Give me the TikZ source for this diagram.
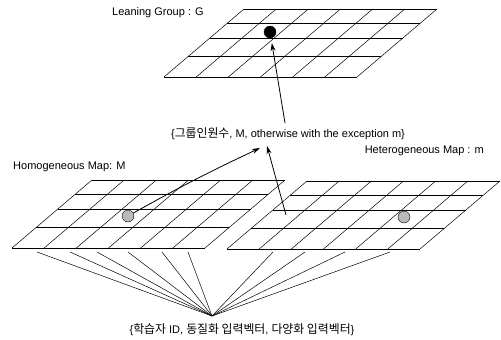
\documentclass[tikz,border=0pt]{standalone}
\usepackage{fontspec}
\setmainfont{Liberation Sans}
\newfontfamily\kor[Scale=1.08]{Noto Sans CJK KR}
\usetikzlibrary{arrows.meta}
\begin{document}
\begin{tikzpicture}[x=1pt,y=-1pt,
    lbl/.style={inner sep=1pt, font=\fontsize{11}{13}\selectfont},
    dot/.style={circle, draw, thin, minimum size=12pt, inner sep=0pt},
    arr/.style={-{Stealth[length=8pt,width=5pt]}, thick}]
    \useasboundingbox (0,0) rectangle (501,340);
    % the three skewed maps
    \foreach \gx/\gy in {164/77, 12/248, 227/249} {
        \foreach \f in {0,.3,.57,.79,1}
            \draw[line width=.7pt] (\gx+80*\f, \gy-68*\f) -- ++(193,0);
        \foreach \i in {0,...,6}
            \draw[line width=.5pt] (\gx+\i*193/6, \gy) -- ++(80,-68);
    }
    \node[lbl, anchor=west] (glabel) at (111,13) {Leaning Group : G};
    \node[lbl, anchor=west] (mlabel) at (12,167) {Homogeneous Map: M};
    \node[lbl, anchor=east] (hlabel) at (485,151) {Heterogeneous Map : m};
    \node[lbl] (cnt) at (288,134) {\{{\kor 그룹인원수}, M, otherwise with the exception m\}};
    \node[lbl] (inp) at (242,330) {\{{\kor 학습자} ID, {\kor 동질화 입력벡터}, {\kor 다양화 입력벡터}\}};
    \node[dot, fill=black] (gdot) at (270,32) {};
    \node[dot, fill=gray!55] (mdot) at (128,216) {};
    \node[dot, fill=gray!55] (hdot) at (404,217) {};
    % arrows to the group
    \coordinate (tipM) at (260,148);
    \coordinate (tipH) at (267,146);
    \coordinate (hsrc) at (286,215);
    \coordinate (gsrc) at (285,123);
    \draw[arr] (mdot) to[bend left=2] (tipM);
    \draw[arr] (hsrc) -- (tipH);
    \draw[arr, shorten >=5pt] (gsrc) -- (gdot);
    % input fan
    \coordinate (apex) at (212,316);
    \foreach \x in {37,70,97,128,162,188,273,305,345,390}
        \draw[line width=.5pt] (\x,252) -- (apex);
\end{tikzpicture}
\end{document}
